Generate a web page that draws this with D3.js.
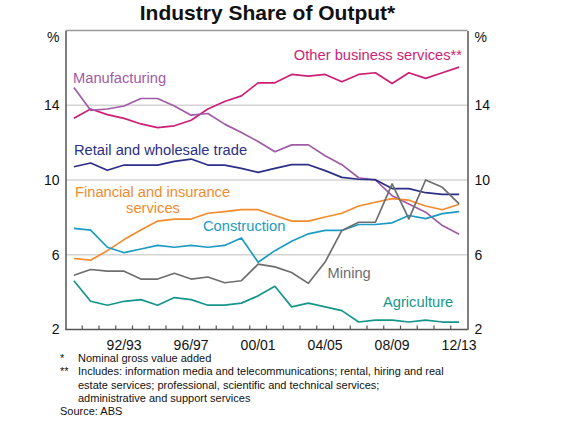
<!DOCTYPE html>
<html>
<head>
<meta charset="utf-8">
<script src="https://cdn.jsdelivr.net/npm/d3@7"></script>
<style>
	body { margin: 0; background: #fff; }
	text { font-family: "Liberation Sans", Arial, sans-serif; }
</style>
</head>
<body>
<div id="chart"></div>
<script>

//Financial years, 89/90 to 12/13
var years = ["89/90","90/91","91/92","92/93","93/94","94/95","95/96","96/97","97/98","98/99",
			 "99/00","00/01","01/02","02/03","03/04","04/05","05/06","06/07","07/08","08/09",
			 "09/10","10/11","11/12","12/13"];
var yearLabels = ["92/93","96/97","00/01","04/05","08/09","12/13"];
var yTicks = [2, 6, 10, 14];

//Shares of output, per cent
var otherBusiness = [13.3,13.8,13.5,13.3,13.0,12.8,12.9,13.2,13.8,14.2,14.5,15.2,15.2,15.65,
					 15.56,15.65,15.26,15.65,15.74,15.16,15.74,15.44,15.74,16.04];
var manufacturing = [14.95,13.73,13.8,13.96,14.36,14.36,13.96,13.47,13.56,12.99,12.54,12.06,11.51,11.88,
					 11.88,11.3,10.82,10.12,10.0,9.16,8.72,8.28,7.56,7.1];
var retail = [10.71,10.91,10.52,10.8,10.8,10.8,11.0,11.12,10.8,10.8,10.62,10.41,10.62,10.82,
			  10.82,10.5,10.14,10.04,10.02,9.54,9.54,9.32,9.23,9.23];
var financial = [5.8,5.71,6.22,6.81,7.32,7.8,7.91,7.91,8.22,8.31,8.41,8.41,8.1,7.8,
				 7.8,8.02,8.22,8.61,8.81,9.0,8.92,8.61,8.41,8.7];
var construction = [7.41,7.32,6.4,6.11,6.31,6.5,6.4,6.5,6.4,6.5,6.9,5.6,6.22,6.72,
					7.12,7.3,7.3,7.62,7.62,7.71,8.1,7.93,8.2,8.31];
var mining = [4.9,5.21,5.12,5.12,4.7,4.7,5.01,4.7,4.81,4.5,4.61,5.5,5.35,5.05,
			  4.47,5.61,7.3,7.74,7.74,9.79,7.92,10.0,9.61,8.72];
var agriculture = [4.61,3.51,3.3,3.51,3.6,3.3,3.71,3.6,3.3,3.3,3.41,3.8,4.31,3.21,
				   3.41,3.21,3.01,2.4,2.5,2.5,2.4,2.5,2.4,2.4];

var seriesValues = [otherBusiness, manufacturing, retail, financial, construction, mining, agriculture];
var seriesColors = ["#cc1f75", "#a05ba6", "#2b2f86", "#f28b2d", "#1b9bc2", "#6d6e70", "#16968a"];

//Width and height
var w = 561;
var h = 423;
var plotLeft = 65.5, plotRight = 467.5, plotTop = 30.5, plotBottom = 329.5;

var svg = d3.select("#chart")
			.append("svg")
			.attr("width", w)
			.attr("height", h);

var x = d3.scaleBand()
		  .domain(years)
		  .range([plotLeft, plotRight])
		  .padding(0);

var y = d3.scaleLinear()
		  .domain([2, 18])
		  .range([plotBottom, plotTop]);

//gridlines
svg.selectAll("line.grid")
   .data(yTicks.slice(1))
   .enter()
   .append("line")
   .attr("class", "grid")
   .attr("x1", plotLeft)
   .attr("x2", plotRight)
   .attr("y1", function(d) { return y(d); })
   .attr("y2", function(d) { return y(d); })
   .attr("stroke", "#d4d4d4")
   .attr("stroke-width", 1.3);

//top border
svg.append("line")
   .attr("x1", plotLeft).attr("x2", plotRight)
   .attr("y1", y(18)).attr("y2", y(18))
   .attr("stroke", "#9a9a9a")
   .attr("stroke-width", 1.3);

//left and right axes
var yLeft = d3.axisLeft(y).tickValues(yTicks).tickSize(0).tickPadding(6);
var yRight = d3.axisRight(y).tickValues(yTicks).tickSize(0).tickPadding(7);

function styleAxis(g) {
	g.select(".domain").attr("stroke", "#555").attr("stroke-width", 1.5);
	g.selectAll("text").attr("font-size", "14px").attr("fill", "#111")
	 .attr("font-family", "Liberation Sans, Arial, sans-serif");
}

svg.append("g")
   .attr("transform", "translate(" + plotLeft + ",0)")
   .call(yLeft)
   .call(styleAxis);

svg.append("g")
   .attr("transform", "translate(" + plotRight + ",0)")
   .call(yRight)
   .call(styleAxis);

svg.append("text")
   .text("%")
   .attr("x", plotLeft - 6)
   .attr("y", 42)
   .attr("text-anchor", "end")
   .attr("font-size", "14px")
   .attr("fill", "#111");

svg.append("text")
   .text("%")
   .attr("x", plotRight + 7)
   .attr("y", 42)
   .attr("font-size", "14px")
   .attr("fill", "#111");

//bottom axis with ticks at year boundaries
svg.append("line")
   .attr("x1", plotLeft).attr("x2", plotRight)
   .attr("y1", plotBottom).attr("y2", plotBottom)
   .attr("stroke", "#555")
   .attr("stroke-width", 1.5);

svg.selectAll("line.xtick")
   .data(years.slice(1))
   .enter()
   .append("line")
   .attr("class", "xtick")
   .attr("x1", function(d) { return x(d); })
   .attr("x2", function(d) { return x(d); })
   .attr("y1", plotBottom)
   .attr("y2", plotBottom - 4)
   .attr("stroke", "#555")
   .attr("stroke-width", 1.2);

svg.selectAll("text.xlabel")
   .data(yearLabels)
   .enter()
   .append("text")
   .attr("class", "xlabel")
   .text(function(d) { return d; })
   .attr("x", function(d) { return x(d) + x.bandwidth() / 2; })
   .attr("y", 349.5)
   .attr("text-anchor", "middle")
   .attr("font-size", "14px")
   .attr("fill", "#111");

//series lines
var line = d3.line()
			 .x(function(d, i) { return x(years[i]) + x.bandwidth() / 2; })
			 .y(function(d) { return y(d); });

svg.selectAll("path.series")
   .data(seriesValues)
   .enter()
   .append("path")
   .attr("class", "series")
   .attr("d", line)
   .attr("fill", "none")
   .attr("stroke", function(d, i) { return seriesColors[i]; })
   .attr("stroke-width", 1.7)
   .attr("stroke-linejoin", "round");

//line labels
var labels = [
	{ t: "Other business services**", s: 0, x: 462, y: 59.5, a: "end" },
	{ t: "Manufacturing", s: 1, x: 73, y: 83, a: "start" },
	{ t: "Retail and wholesale trade", s: 2, x: 74, y: 155, a: "start" },
	{ t: "Financial and insurance", s: 3, x: 75, y: 196.5, a: "start" },
	{ t: "services", s: 3, x: 153, y: 212.5, a: "middle" },
	{ t: "Construction", s: 4, x: 203, y: 231, a: "start" },
	{ t: "Mining", s: 5, x: 327.5, y: 278, a: "start" },
	{ t: "Agriculture", s: 6, x: 383, y: 306.5, a: "start" }
];

svg.selectAll("text.label")
   .data(labels)
   .enter()
   .append("text")
   .attr("class", "label")
   .text(function(d) { return d.t; })
   .attr("x", function(d) { return d.x; })
   .attr("y", function(d) { return d.y; })
   .attr("text-anchor", function(d) { return d.a; })
   .attr("font-size", "14.7px")
   .attr("fill", function(d) { return seriesColors[d.s]; });

//title
svg.append("text")
   .text("Industry Share of Output*")
   .attr("x", (plotLeft + plotRight) / 2 + 1)
   .attr("y", 20)
   .attr("text-anchor", "middle")
   .attr("font-size", "21px")
   .attr("font-weight", "bold")
   .attr("fill", "#111");

//notes
var notes = [
	["*", "Nominal gross value added"],
	["**", "Includes: information media and telecommunications; rental, hiring and real"],
	["", "estate services; professional, scientific and technical services;"],
	["", "administrative and support services"]
];

svg.selectAll("text.mark")
   .data(notes)
   .enter()
   .append("text")
   .attr("class", "mark")
   .text(function(d) { return d[0]; })
   .attr("x", 60)
   .attr("y", function(d, i) { return 361.5 + i * 13.6; })
   .attr("font-size", "11px")
   .attr("fill", "#111");

svg.selectAll("text.note")
   .data(notes)
   .enter()
   .append("text")
   .attr("class", "note")
   .text(function(d) { return d[1]; })
   .attr("x", 78)
   .attr("y", function(d, i) { return 361.5 + i * 13.6; })
   .attr("font-size", "11px")
   .attr("fill", "#111");

svg.append("text")
   .text("Source: ABS")
   .attr("x", 60)
   .attr("y", 415)
   .attr("font-size", "11px")
   .attr("fill", "#111");

</script>
</body>
</html>
